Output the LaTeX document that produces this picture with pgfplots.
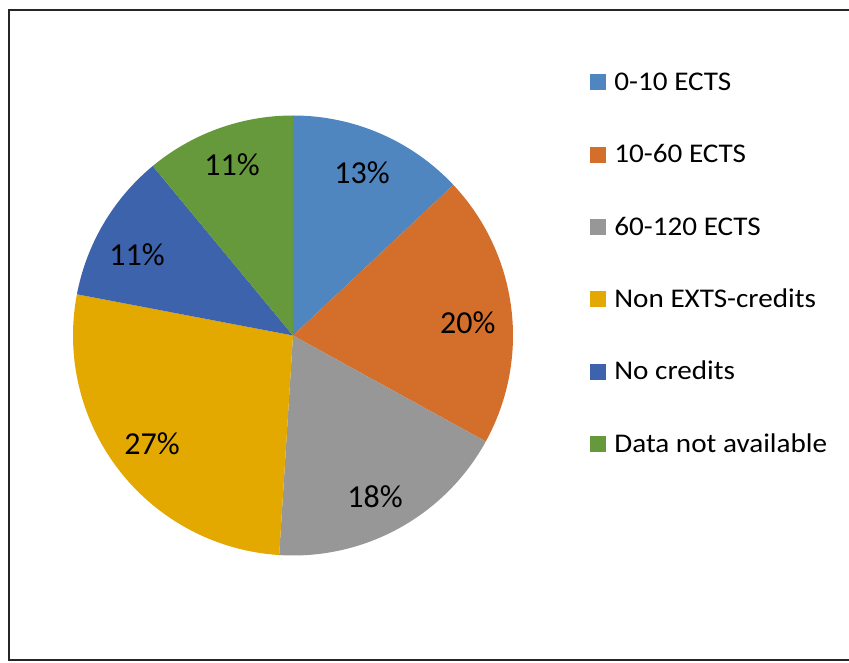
\documentclass[border=0pt]{standalone}
\usepackage{pgfplots}
\usepackage{pgfplotstable}
\pgfplotsset{compat=1.18}
\usepackage{fontspec}
\setmainfont{Carlito}
\newfontfamily\legfam[FakeStretch=1.08]{Carlito}
\definecolor{c1}{RGB}{79,134,192}
\definecolor{c2}{RGB}{212,111,43}
\definecolor{c3}{RGB}{151,151,151}
\definecolor{c4}{RGB}{227,169,0}
\definecolor{c5}{RGB}{61,99,173}
\definecolor{c6}{RGB}{102,153,59}
% value, colour, label position (axis units, radius 1)
\pgfplotstableread[col sep=comma]{
value,color,lx,ly
13,c1,0.314,0.739
20,c2,0.795,0.057
18,c3,0.373,-0.734
27,c4,-0.641,-0.493
11,c5,-0.709,0.366
11,c6,-0.277,0.775
}\piedata
\newcommand\pctfont{\fontsize{32}{32}\selectfont}
\newcommand\legfont{\legfam\fontsize{27}{27}\selectfont}
\begin{document}
\begin{tikzpicture}
\useasboundingbox (0pt,0pt) rectangle (849pt,662pt);
\draw[line width=2pt, black!85] (880pt,652pt) -- (8.5pt,652pt) -- (8.5pt,2pt) -- (880pt,2pt);
\begin{axis}[
  at={(293pt,326.5pt)}, anchor=center,
  hide axis, scale only axis, width=440pt, height=440pt,
  xmin=-1, xmax=1, ymin=-1, ymax=1, clip=false,
  legend cell align=left,
  legend style={at={(1.175,1.158)}, anchor=north west, draw=none, fill=none,
    inner sep=0pt, outer sep=0pt, row sep=0pt, column sep=9pt,
    nodes={inner sep=0pt, minimum height=72.3pt}, font=\legfont},
  sq/.style={legend image code/.code={\fill[#1] (0pt,-7.5pt) rectangle (15pt,7.5pt);}},
]
\def\startang{90}
\pgfplotsforeachungrouped \i in {0,...,5}{
  \pgfplotstablegetelem{\i}{value}\of\piedata
  \let\v\pgfplotsretval
  \pgfplotstablegetelem{\i}{color}\of\piedata
  \let\col\pgfplotsretval
  \pgfplotstablegetelem{\i}{lx}\of\piedata
  \let\lx\pgfplotsretval
  \pgfplotstablegetelem{\i}{ly}\of\piedata
  \let\ly\pgfplotsretval
  \pgfmathsetmacro\endang{\startang-\v*3.6}
  \edef\temp{\noexpand\fill[\col] (axis cs:0,0) -- (axis cs:{cos(\startang)},{sin(\startang)}) arc[start angle=\startang, end angle=\endang, radius=220pt] -- cycle;
    \noexpand\node[font=\noexpand\pctfont, inner sep=0pt] at (axis cs:\lx,\ly) {\v\noexpand\%};}
  \temp
  \global\let\startang\endang
}
\addlegendimage{sq=c1}\addlegendentry{0-10 ECTS}
\addlegendimage{sq=c2}\addlegendentry{10-60 ECTS}
\addlegendimage{sq=c3}\addlegendentry{60-120 ECTS}
\addlegendimage{sq=c4}\addlegendentry{Non EXTS-credits}
\addlegendimage{sq=c5}\addlegendentry{No credits}
\addlegendimage{sq=c6}\addlegendentry{Data not available}
\end{axis}
\end{tikzpicture}
\end{document}
